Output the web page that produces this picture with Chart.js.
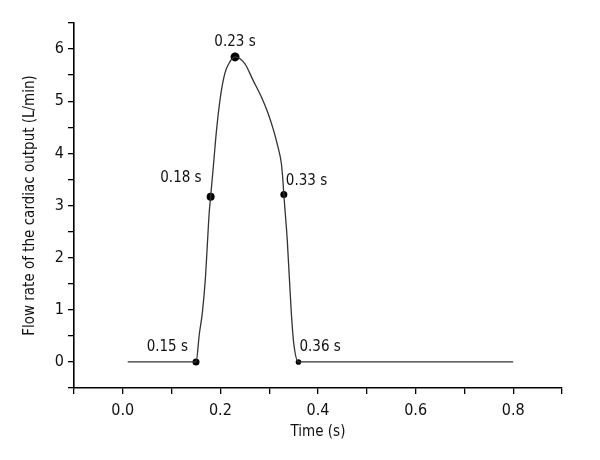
<!DOCTYPE html>
<html>
<head>
<meta charset="utf-8">
<script src="https://cdn.jsdelivr.net/npm/chart.js@4"></script>
<style>
  html, body { margin: 0; padding: 0; background: #fff; }
  #wrap { width: 600px; height: 460px; }
</style>
</head>
<body>
<div id="wrap"><canvas id="c" width="600" height="460"></canvas></div>
<script>
// ---- data ----
const timeValues = [0.01, 0.15, 0.157, 0.163, 0.169, 0.173, 0.177, 0.18, 0.186, 0.192, 0.200, 0.209, 0.219, 0.23, 0.25, 0.267, 0.284, 0.298, 0.309, 0.318, 0.325, 0.328, 0.33, 0.337, 0.345, 0.35, 0.36, 0.80];
const flowValues = [0, 0, 0.55, 0.94, 1.57, 2.21, 2.85, 3.17, 3.80, 4.44, 5.08, 5.53, 5.75, 5.85, 5.72, 5.40, 5.08, 4.76, 4.44, 4.12, 3.80, 3.49, 3.21, 2.34, 0.99, 0.38, 0, 0];
const markerTimes = [0.15, 0.18, 0.23, 0.33, 0.36];
const markerFlows = [0, 3.17, 5.85, 3.21, 0];
const markerLabels = ['0.15 s', '0.18 s', '0.23 s', '0.33 s', '0.36 s'];
const xAxisTitle = 'Time (s)';
const yAxisTitle = 'Flow rate of the cardiac output (L/min)';

const FONT = '"DejaVu Sans Condensed", "Liberation Sans Narrow", sans-serif';

// label placement (pixel offsets from each marker) and alignment
const labelStyle = [
  { dx: -8,  dy: -15, align: 'right' },
  { dx: -9,  dy: -19, align: 'right' },
  { dx: 0,   dy: -15, align: 'center' },
  { dx: 2,   dy: -13, align: 'left' },
  { dx: 1,   dy: -15, align: 'left' }
];

const markerLabelPlugin = {
  id: 'markerLabels',
  afterDatasetsDraw(chart) {
    const meta = chart.getDatasetMeta(1);
    const ctx = chart.ctx;
    ctx.save();
    ctx.font = '15px ' + FONT;
    ctx.fillStyle = '#111';
    ctx.textBaseline = 'middle';
    meta.data.forEach((pt, i) => {
      const s = labelStyle[i];
      ctx.textAlign = s.align;
      ctx.fillText(markerLabels[i], pt.x + s.dx, pt.y + s.dy);
    });
    ctx.restore();
  }
};

const curve = timeValues.map((t, i) => ({ x: t, y: flowValues[i] }));
const markers = markerTimes.map((t, i) => ({ x: t, y: markerFlows[i] }));

new Chart(document.getElementById('c'), {
  type: 'line',
  data: {
    datasets: [
      {
        data: curve,
        borderColor: '#333',
        borderWidth: 1.3,
        pointRadius: 0,
        fill: false,
        cubicInterpolationMode: 'monotone'
      },
      {
        type: 'scatter',
        data: markers,
        showLine: false,
        pointRadius: [3.5, 4, 4.5, 3.5, 2.8],
        pointBackgroundColor: '#000',
        pointBorderColor: '#000',
        pointBorderWidth: 0
      }
    ]
  },
  options: {
    responsive: false,
    animation: false,
    layout: { padding: { top: 23, right: 38, bottom: 0, left: 0 } },
    plugins: { legend: { display: false }, tooltip: { enabled: false } },
    scales: {
      x: {
        type: 'linear',
        min: -0.1, max: 0.9,
        afterFit: (s) => { s.height = 72; },
        border: { display: true, color: '#000', width: 1.6 },
        grid: { drawOnChartArea: false, drawTicks: true, tickLength: 6, color: '#000', tickColor: '#000', lineWidth: 1.3 },
        ticks: {
          stepSize: 0.1, autoSkip: false, maxRotation: 0, padding: 7,
          color: '#111', font: { size: 16, family: FONT },
          callback: (v) => { const k = Math.round(v * 10); return (k % 2 === 0) ? (k / 10).toFixed(1) : ''; }
        },
        title: { display: true, text: xAxisTitle, color: '#111', font: { size: 15, family: FONT }, padding: { top: 0, bottom: 19 } }
      },
      y: {
        type: 'linear',
        min: -0.5, max: 6.5,
        afterFit: (s) => { s.width = 74; },
        border: { display: true, color: '#000', width: 1.6 },
        grid: { drawOnChartArea: false, drawTicks: true, tickLength: 6, color: '#000', tickColor: '#000', lineWidth: 1.3 },
        ticks: {
          stepSize: 0.5, autoSkip: false, padding: 4,
          color: '#111', font: { size: 16, family: FONT },
          callback: (v) => { const k = Math.round(v * 2); return (k % 2 === 0) ? String(k / 2) : ''; }
        },
        title: { display: true, text: yAxisTitle, color: '#111', font: { size: 15, family: FONT }, padding: { top: 21, bottom: 0 } }
      }
    }
  },
  plugins: [markerLabelPlugin]
});
</script>
</body>
</html>
